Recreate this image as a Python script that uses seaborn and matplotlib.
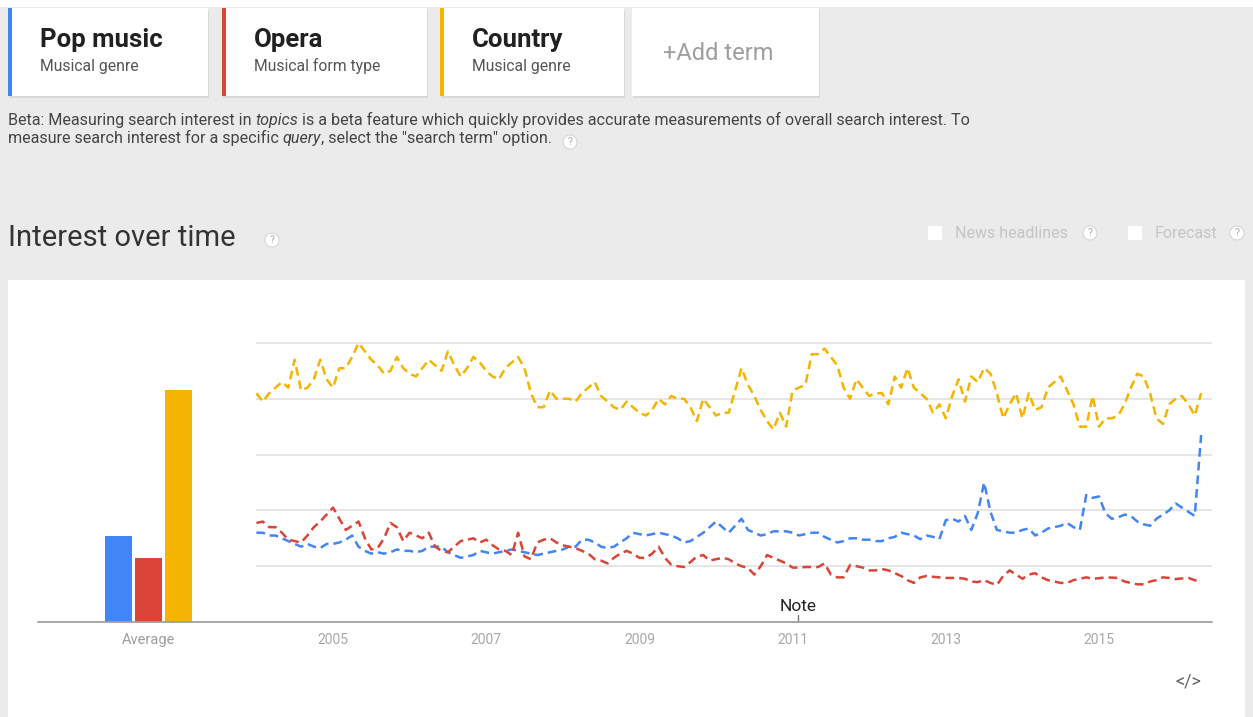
import matplotlib
matplotlib.use("Agg")
import matplotlib.pyplot as plt
import matplotlib.patches as mpatches
from matplotlib.lines import Line2D
import seaborn as sns
import numpy as np
import pandas as pd

# search terms shown in the cards and the average bars
terms = ["Pop music", "Opera", "Country"]
subtitles = ["Musical genre", "Musical form type", "Musical genre"]
colors = ["#4285f4", "#db4437", "#f4b400"]
averages = [31, 23, 83]

# monthly interest, Jan 2004 onward
pop = [32, 32, 31, 31, 30, 29, 28, 27, 28, 27, 26.5, 28, 28, 28.5, 29.5, 31, 27, 25.5, 24.5, 25,
       24.5, 25, 26, 25.5, 25.5, 25, 25.5, 27, 27, 27, 25, 24, 23, 23.5, 24, 25.5, 25, 24.5, 25, 25.5,
       26, 25.5, 25, 24.5, 24, 24.5, 25, 25.5, 26, 27, 27, 29.5, 29.5, 28.5, 27, 26.5, 27, 28.5, 30, 32,
       31.5, 31, 31.5, 32, 31.5, 31, 30, 28.5, 29, 30.5, 32, 34, 36, 34, 32, 34.5, 37, 33, 32, 31,
       31.5, 32.5, 32.5, 32.5, 32, 31, 31.5, 32, 32, 30.5, 29.5, 28.5, 29, 30, 30, 29.5, 29.5, 29, 29, 30,
       30.5, 32, 31.5, 31, 29.7, 31, 30.5, 29.7, 36.5, 37, 36, 38, 33, 39, 50, 39.5, 33, 32.5, 32, 32,
       33, 33.5, 31, 32, 33.5, 34, 34.5, 35.5, 34, 33, 45.5, 44.5, 45, 39, 37, 37.5, 38.5, 38, 36, 35,
       34.5, 37, 38.5, 40, 42.5, 41, 39.5, 38, 67]
opera = [35.5, 36, 34, 34, 32, 29.5, 29, 28.5, 31, 34, 36, 38.5, 41, 37, 33, 34.5, 36, 30, 26, 26.5,
         30, 35.5, 34, 29, 32, 31, 30, 32, 27, 25.5, 25, 27, 29, 29.5, 30, 28.5, 29.5, 27.5, 26, 25.5,
         24, 32, 23.5, 22.5, 28.5, 29.5, 30, 28.5, 27.5, 27, 26.5, 25.5, 24.5, 22.5, 22, 21, 23, 24.5, 25.5, 24.5,
         23, 23, 24.5, 27, 23, 20.5, 20, 19.7, 21.5, 23.5, 24, 22, 22.5, 23, 22.5, 21, 20, 19.4, 17, 20,
         24, 23, 22, 21, 19.5, 19.5, 19.7, 19.7, 19.7, 21, 17, 16, 16, 20.4, 20, 19.5, 18.5, 18.5, 19, 18.5,
         17.5, 16.5, 15, 14, 16, 16.5, 16.2, 16, 15.8, 15.8, 15.8, 15.5, 14.5, 14.3, 15, 14, 13.3, 16.5, 18.5, 17,
         15.5, 17, 17.5, 16, 15, 14.5, 14, 14, 15, 15.5, 16, 15.5, 15.7, 16, 15.9, 15.8, 14.5, 14, 13.5, 13.5,
         14.5, 15, 16, 15.8, 15.4, 15.6, 15.8, 15, 14.3]
country = [82, 79, 82, 84, 86, 84, 94, 83, 84, 87, 94, 87, 84, 91, 91, 95, 100, 97, 94, 92,
           89, 90, 95, 91, 89, 88, 91, 94, 92, 90, 97, 92, 88, 91, 95, 93, 90, 88, 87, 91,
           93, 95, 91, 82, 77, 77, 83, 80, 80, 80, 79, 82, 84, 86, 81, 79, 77, 76, 79, 77,
           75, 74, 76, 80, 78, 81, 80, 80, 77, 72, 80, 77, 74, 75, 75, 83, 91, 85, 81, 76,
           72, 69, 75, 70, 83, 84, 85, 96, 96, 98, 95, 92, 84, 80, 87, 84, 81, 82, 82, 78,
           88, 84, 91, 84, 82, 80, 75, 78, 73, 81, 87, 79, 88, 86, 91, 89, 82, 73, 78, 82,
           73, 82, 76, 77, 84, 86, 88, 83, 78, 70, 70, 81, 70, 73, 73, 74, 78, 84, 89, 88,
           82, 73, 71, 78, 80, 81, 78, 74, 82]
start_year = 2004
year_ticks = [2005, 2007, 2009, 2011, 2013, 2015]
note_date = 2011.07

W, H = 1253, 717
sns.set_theme(style="white")
plt.rcParams["font.family"] = ["Roboto", "DejaVu Sans"]

fig = plt.figure(figsize=(W / 100, H / 100), dpi=100)
fig.patch.set_facecolor("#ebebeb")


def fx(x):
    return x / W


def fy(y):
    return 1 - y / H


def box(x0, y0, x1, y1, color, z=-5):
    fig.patches.append(mpatches.Rectangle((fx(x0), fy(y1)), (x1 - x0) / W, (y1 - y0) / H,
                                          transform=fig.transFigure, facecolor=color,
                                          edgecolor="none", zorder=z))


def help_icon(x, y, r=7):
    fig.patches.append(mpatches.Ellipse((fx(x), fy(y)), 2 * r / W, 2 * r / H, transform=fig.transFigure,
                                        facecolor="white", edgecolor="#d6d6d6", lw=0.8, zorder=2))
    fig.text(fx(x), fy(y), "?", fontsize=7.5, color="#aaaaaa", ha="center", va="center", zorder=3)


# page backgrounds
box(0, 0, W, 7, "white")
box(8, 280, 1245, 717, "white")

# term cards
card_x = [(8, 208), (222, 427), (440, 624)]
for (x0, x1), term, sub, c in zip(card_x, terms, subtitles, colors):
    box(x0 + 1, 10, x1 + 1, 98, "#d9d9d9", z=-6)
    box(x0, 8, x1, 96, "white")
    box(x0, 8, x0 + 4, 96, c, z=-4)
    fig.text(fx(x0 + 32), fy(40), term, fontsize=18.5, fontweight="bold", color="#212121", va="center")
    fig.text(fx(x0 + 32), fy(66), sub, fontsize=11.3, color="#555555", va="center")
box(633, 10, 820, 98, "#d9d9d9", z=-6)
box(632, 8, 819, 96, "white")
fig.text(fx(718), fy(53), "+Add term", fontsize=17, color="#9e9e9e", ha="center", va="center")

# beta note with italic words
renderer = fig.canvas.get_renderer()
beta_lines = [
    (120, [("Beta: Measuring search interest in ", "normal"), ("topics", "italic"),
           (" is a beta feature which quickly provides accurate measurements of overall search interest. To", "normal")]),
    (138, [("measure search interest for a specific ", "normal"), ("query", "italic"),
           (", select the \"search term\" option.", "normal")]),
]
for y, parts in beta_lines:
    x = 8
    for s, style in parts:
        t = fig.text(fx(x), fy(y), s, fontsize=11.6, color="#444444", style=style, va="center")
        x += t.get_window_extent(renderer).width
help_icon(x + 18, 142)

# section header
fig.text(fx(8), fy(238), "Interest over time", fontsize=21, color="#333333", va="center")
help_icon(272, 240)
for cx, label, hx in [(928, "News headlines", 1090), (1128, "Forecast", 1237)]:
    box(cx, 226, cx + 14, 240, "white", z=1)
    fig.text(fx(cx + 27), fy(233), label, fontsize=11.5, color="#c4c4c4", va="center")
    help_icon(hx, 233)

# chart axes: average bars on the left, time series on the right
top_px, base_px = 300, 622
ymax = (base_px - top_px) / 2.79
ax_bar = fig.add_axes([fx(38), fy(base_px), (256.4 - 38) / W, (base_px - top_px) / H])
ax = fig.add_axes([fx(256.4), fy(base_px), (1212 - 256.4) / W, (base_px - top_px) / H])
for a in (ax_bar, ax):
    a.set_facecolor("none")
    for s in a.spines.values():
        s.set_visible(False)
    a.set_ylim(0, ymax)

sns.barplot(x=terms, y=averages, hue=terms, palette=colors, width=0.9, saturation=1,
            legend=False, linewidth=0, ax=ax_bar)
ax_bar.set_xlim(-2.683, 4.597)
ax_bar.set_xticks([1])
ax_bar.set_xticklabels(["Average"], fontsize=10.5, color="#9e9e9e")
ax_bar.set_yticks([])
ax_bar.tick_params(axis="x", length=0, pad=8)
ax_bar.set_xlabel("")
ax_bar.set_ylabel("")

dates = start_year + np.arange(len(pop)) / 12
dash = (0, (3.5, 2))
for vals, c in zip([pop, opera, country], colors):
    sns.lineplot(x=dates, y=vals, ax=ax, color=c, linewidth=1.8, linestyle=dash, clip_on=False)

ax.set_xlim(2004.0, 2004.0 + (1212 - 256.4) / 76.6)
ax.set_yticks([20, 40, 60, 80, 100])
ax.set_yticklabels([])
ax.grid(axis="y", color="#e6e6e6", linewidth=1.4)
ax.grid(axis="x", visible=False)
ax.set_xticks(year_ticks)
ax.set_xticklabels([str(y) for y in year_ticks], fontsize=10, color="#a8a8a8")
ax.tick_params(axis="both", length=0)
ax.tick_params(axis="x", pad=8)

# note marker
ax.plot([note_date, note_date], [0, 2.5], color="#777777", lw=1, clip_on=False)
ax.text(note_date, 5.6, "Note", fontsize=12.5, color="#222222", ha="center", va="center")

# baseline across both parts
fig.lines.append(Line2D([fx(38), fx(1212)], [fy(base_px), fy(base_px)], transform=fig.transFigure,
                        color="#a0a0a0", lw=1.3, zorder=4))

fig.text(fx(1188), fy(681), "</>", fontsize=13, color="#666666", ha="center", va="center")

fig.savefig("out.png", dpi=100, facecolor=fig.get_facecolor())
